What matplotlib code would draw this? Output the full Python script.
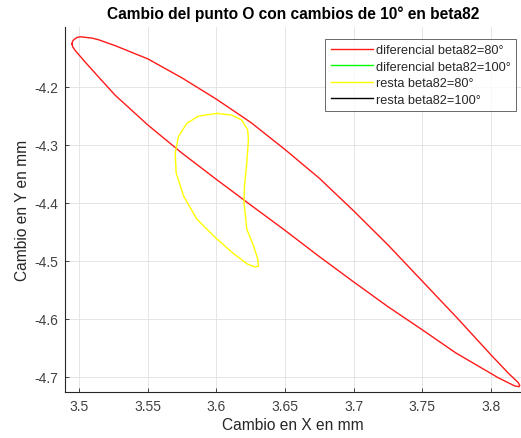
import matplotlib
matplotlib.use("Agg")
import matplotlib.pyplot as plt

plt.rcParams['font.family'] = ['Liberation Sans', 'DejaVu Sans']

# Displacement of point O (mm) for the differential method, beta82 = 80 deg
dif80_x = [3.4947, 3.4950, 3.4959, 3.4983, 3.5007, 3.5092, 3.5141, 3.5262, 3.5500,
           3.5750, 3.6000, 3.6250, 3.6500, 3.6750, 3.7000, 3.7250, 3.7500, 3.7750,
           3.8000, 3.8126, 3.8199, 3.8211, 3.8206, 3.8175, 3.8053, 3.8000, 3.7745,
           3.7500, 3.7250, 3.7000, 3.6743, 3.6500, 3.6257, 3.6000, 3.5748, 3.5500,
           3.5262, 3.5141, 3.5044, 3.4971, 3.4953, 3.4947]
dif80_y = [-4.1259, -4.1215, -4.1185, -4.1145, -4.1133, -4.1156, -4.1185, -4.1287, -4.1515,
           -4.1845, -4.2211, -4.2611, -4.3080, -4.3575, -4.4138, -4.4725, -4.5350, -4.5975,
           -4.6620, -4.6935, -4.7100, -4.7150, -4.7172, -4.7160, -4.7017, -4.6943, -4.6590,
           -4.6190, -4.5791, -4.5364, -4.4915, -4.4475, -4.4050, -4.3596, -4.3140, -4.2656,
           -4.2143, -4.1829, -4.1572, -4.1373, -4.1310, -4.1259]

# Differential method, beta82 = 100 deg (no samples)
dif100_x = []
dif100_y = []

# Subtraction method, beta82 = 80 deg
res80_x = [3.6002, 3.6112, 3.6184, 3.6228, 3.6233, 3.6221, 3.6204, 3.6201, 3.6221,
           3.6269, 3.6301, 3.6306, 3.6282, 3.6221, 3.6112, 3.5990, 3.5857, 3.5760,
           3.5706, 3.5699, 3.5723, 3.5784, 3.5869, 3.6002]
res80_y = [-4.2456, -4.2485, -4.2570, -4.2741, -4.2912, -4.3311, -4.3710, -4.3995, -4.4452,
           -4.4737, -4.4965, -4.5090, -4.5107, -4.5050, -4.4851, -4.4594, -4.4281, -4.3881,
           -4.3482, -4.3140, -4.2855, -4.2627, -4.2502, -4.2456]

# Subtraction method, beta82 = 100 deg (no samples)
res100_x = []
res100_y = []

series_labels = ['diferencial beta82=80°', 'diferencial beta82=100°',
                 'resta beta82=80°', 'resta beta82=100°']
x_ticks = [3.5, 3.55, 3.6, 3.65, 3.7, 3.75, 3.8]
y_ticks = [-4.7, -4.6, -4.5, -4.4, -4.3, -4.2]

fig = plt.figure(figsize=(5.21, 4.39), dpi=100)
ax = fig.add_axes([0.1248, 0.104, 0.8752, 0.8315])

ax.plot(dif80_x, dif80_y, color='#ff1a1a', lw=1.0, label=series_labels[0],
        solid_joinstyle='round')
ax.plot(dif100_x, dif100_y, color='#00ff00', lw=1.0, label=series_labels[1])
ax.plot(res80_x, res80_y, color='#ffff00', lw=1.0, label=series_labels[2],
        solid_joinstyle='round')
ax.plot(res100_x, res100_y, color='#000000', lw=1.0, label=series_labels[3])

ax.set_xlim(3.4896, 3.822)
ax.set_ylim(-4.727, -4.097)
ax.set_xticks(x_ticks)
ax.set_xticklabels([f'{v:g}' for v in x_ticks])
ax.set_yticks(y_ticks)
ax.set_yticklabels([f'{v:g}' for v in y_ticks])

ax.grid(True, color='#e0e0e0', lw=0.6)
ax.set_axisbelow(True)
for s in ['top', 'right']:
    ax.spines[s].set_visible(False)
for s in ['left', 'bottom']:
    ax.spines[s].set_color('#262626')
    ax.spines[s].set_linewidth(0.8)
ax.tick_params(direction='in', length=3, width=0.6, colors='#262626',
               labelsize=10, pad=5)
for lbl in ax.get_xticklabels() + ax.get_yticklabels():
    lbl.set_color('#404040')

ax.set_xlabel('Cambio en X en mm', fontsize=11.2, color='#262626', labelpad=3)
ax.set_ylabel('Cambio en Y en mm', fontsize=11.2, color='#262626', labelpad=3)
ax.set_title('Cambio del punto O con cambios de 10° en beta82',
             fontsize=11.2, fontweight='bold', pad=7)

leg = ax.legend(loc='upper right', bbox_to_anchor=(0.989, 0.968), fontsize=9.2,
                frameon=True, fancybox=False, edgecolor='#262626',
                handlelength=3.3, handletextpad=0.27, borderpad=0.4,
                labelspacing=0.36, borderaxespad=0)
leg.get_frame().set_linewidth(0.6)
for t in leg.get_texts():
    t.set_color('#262626')

fig.savefig('out.png', dpi=100)
